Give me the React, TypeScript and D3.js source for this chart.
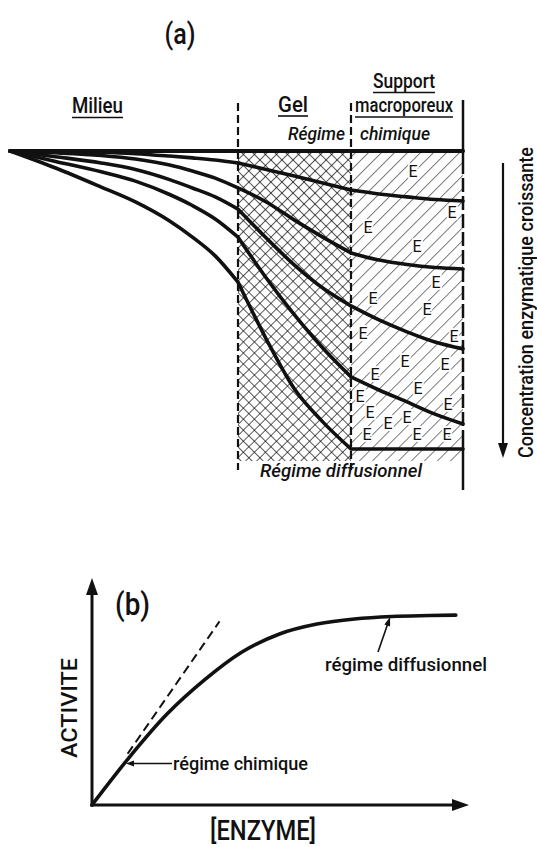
import React from "react";
import * as d3 from "d3";

// ---------- Panel (a) data : concentration profiles (% of bulk) ----------
// zone coordinate: 0..1 Milieu, 1..2 Gel, 2..3 Support macroporeux
const milieuX = [0, 0.2, 0.4, 0.55, 0.7, 0.8, 0.9, 1];
const gelX = [1, 1.25, 1.5, 1.75, 2];
const supportX = [2, 2.25, 2.5, 2.75, 3];

const profile1 = { milieu: [100, 100, 100, 100, 100, 100, 100, 100], gel: [100, 100, 100, 100, 100], support: [100, 100, 100, 100, 100] };
const profile2 = { milieu: [100, 99.9, 99.6, 99.1, 98.3, 97.7, 97.0, 96.0], gel: [96.0, 93.8, 91.6, 89.3, 86.9], support: [86.9, 85.6, 84.6, 83.7, 83.2] };
const profile3 = { milieu: [100, 99.4, 98.5, 97.3, 95.3, 93.3, 90.9, 87.6], gel: [87.6, 82.9, 76.8, 71.1, 65.8], support: [65.8, 63.4, 61.9, 60.9, 60.4] };
const profile4 = { milieu: [100, 98.1, 96.0, 93.8, 90.4, 87.6, 84.6, 80.5], gel: [80.5, 70.8, 61.7, 54.0, 48.0], support: [48.0, 43.3, 39.3, 35.9, 33.6] };
const profile5 = { milieu: [100, 96.5, 93.0, 89.9, 85.4, 81.7, 77.2, 71.1], gel: [71.1, 57.4, 45.0, 33.9, 24.2], support: [24.2, 19.8, 15.8, 11.7, 8.4] };
const profile6 = { milieu: [100, 94.3, 87.9, 82.9, 76.5, 71.1, 64.8, 56.0], gel: [56.0, 36.9, 20.1, 9.1, 0], support: [0, 0, 0, 0, 0] };
const profiles = [profile1, profile2, profile3, profile4, profile5, profile6];

// enzyme markers in the support (zone coordinate, % level)
const enzymeX = [2.554, 2.902, 2.152, 2.589, 2.759, 2.196, 2.679, 2.107, 2.92, 2.482, 2.214, 2.839, 2.598, 2.08, 2.866, 2.17, 2.5, 2.33, 2.143, 2.589, 2.857];
const enzymeY = [93.3, 79.5, 74.5, 68.1, 56.0, 50.7, 47.0, 38.9, 37.9, 29.5, 25.2, 28.5, 20.5, 17.8, 15.1, 12.4, 10.7, 8.7, 5.0, 5.0, 5.0];

// ---------- Panel (b) data ----------
const enzyme = [0, 10, 20, 30, 40, 50, 60, 70, 80, 90, 97];
const activity = [0, 21.3, 40.4, 55.6, 68, 76, 80.4, 82.7, 83.8, 84.2, 84.4];
const tangentX = [9.5, 34];
const tangentY = [22.8, 81.6];

const FONT = "Roboto, 'DejaVu Sans', sans-serif";

export default function App() {
  const W = 537, H = 847;
  const xA = d3.scaleLinear().domain([0, 1, 2, 3]).range([10, 238, 351, 463]);
  const yA = d3.scaleLinear().domain([0, 100]).range([449, 151]);
  const lineA = d3.line<[number, number]>().x(d => xA(d[0])).y(d => yA(d[1])).curve(d3.curveMonotoneX);
  const seg = (xs: number[], ys: number[]) => lineA(xs.map((x, i) => [x, ys[i]] as [number, number])) || "";
  const profilePaths = profiles.map(p => seg(milieuX, p.milieu) + seg(gelX, p.gel) + seg(supportX, p.support));

  const xB = d3.scaleLinear().domain([0, 100]).range([92, 467]);
  const yB = d3.scaleLinear().domain([0, 100]).range([805, 580]);
  const lineB = d3.line<[number, number]>().x(d => xB(d[0])).y(d => yB(d[1])).curve(d3.curveMonotoneX);
  const activityPath = lineB(enzyme.map((e, i) => [e, activity[i]] as [number, number])) || "";
  const tangentPath = d3.line<[number, number]>().x(d => xB(d[0])).y(d => yB(d[1]))(tangentX.map((t, i) => [t, tangentY[i]] as [number, number])) || "";

  const gx0 = xA(1), gx1 = xA(2), sx1 = xA(3);
  const top = yA(100), hatchBottom = 461;

  const arrowHead = (tx: number, ty: number, dir: "up" | "down" | "left" | "right", len: number, half: number) => {
    let pts: number[][] = [];
    if (dir === "up") pts = [[tx, ty], [tx - half, ty + len], [tx + half, ty + len]];
    if (dir === "down") pts = [[tx, ty], [tx - half, ty - len], [tx + half, ty - len]];
    if (dir === "right") pts = [[tx, ty], [tx - len, ty - half], [tx - len, ty + half]];
    if (dir === "left") pts = [[tx, ty], [tx + len, ty - half], [tx + len, ty + half]];
    return "M" + pts.map(p => p.join(",")).join("L") + "Z";
  };

  const dTipX = xB(79.5), dTipY = yB(83.6);
  const dAng = Math.atan2(dTipY - 652, dTipX - 378);

  const txt = { fontWeight: 500 as const, fill: "#111" };

  return (
    <svg width={W} height={H} style={{ position: "absolute", left: 0, top: 0, background: "#fff" }} fontFamily={FONT}>
      <defs>
        <pattern id="hatchA" patternUnits="userSpaceOnUse" width="7.8" height="20" patternTransform="rotate(45)">
          <line x1="0" y1="0" x2="0" y2="20" stroke="#000" strokeWidth="1.3" />
        </pattern>
        <pattern id="hatchB" patternUnits="userSpaceOnUse" width="7.8" height="20" patternTransform="rotate(-45)">
          <line x1="0" y1="0" x2="0" y2="20" stroke="#000" strokeWidth="1.3" />
        </pattern>
        <pattern id="hatchS" patternUnits="userSpaceOnUse" width="9.2" height="20" patternTransform="rotate(45)">
          <line x1="0" y1="0" x2="0" y2="20" stroke="#111" strokeWidth="1.1" />
        </pattern>
      </defs>
      <rect x={0} y={0} width={W} height={H} fill="#fff" />

      {/* ---------- Panel (a) ---------- */}
      <text x={180} y={44} fontSize={30} textAnchor="middle" textLength={31} lengthAdjust="spacingAndGlyphs" {...txt}>(a)</text>

      <text x={72} y={113} fontSize={22} textLength={51} lengthAdjust="spacingAndGlyphs" {...txt}>Milieu</text>
      <line x1={72} x2={123} y1={117.5} y2={117.5} stroke="#111" strokeWidth={1.6} />
      <text x={278} y={112} fontSize={22} textLength={30} lengthAdjust="spacingAndGlyphs" {...txt}>Gel</text>
      <line x1={278} x2={308} y1={116} y2={116} stroke="#111" strokeWidth={1.6} />
      <text x={373} y={88} fontSize={20} textLength={62} lengthAdjust="spacingAndGlyphs" {...txt}>Support</text>
      <line x1={373} x2={435} y1={92.5} y2={92.5} stroke="#111" strokeWidth={1.6} />
      <text x={355} y={112} fontSize={20} textLength={98} lengthAdjust="spacingAndGlyphs" {...txt}>macroporeux</text>
      <line x1={355} x2={453} y1={117} y2={117} stroke="#111" strokeWidth={1.6} />
      <text x={288} y={140} fontSize={18} fontStyle="italic" textLength={57} lengthAdjust="spacingAndGlyphs" {...txt}>Régime</text>
      <text x={360} y={140} fontSize={18} fontStyle="italic" textLength={70} lengthAdjust="spacingAndGlyphs" {...txt}>chimique</text>

      {/* hatching */}
      <rect x={gx0} y={top} width={gx1 - gx0} height={hatchBottom - top} fill="url(#hatchA)" />
      <rect x={gx0} y={top} width={gx1 - gx0} height={hatchBottom - top} fill="url(#hatchB)" />
      <rect x={gx1} y={top} width={sx1 - gx1} height={hatchBottom - top} fill="url(#hatchS)" />

      {/* enzyme markers */}
      {enzymeX.map((ex, i) => (
        <text key={i} x={xA(ex)} y={yA(enzymeY[i]) + 6} fontSize={16} textAnchor="middle"
          stroke="#fff" strokeWidth={3.5} paintOrder="stroke" fill="#111" fontWeight={400}>E</text>
      ))}

      {/* boundaries */}
      <line x1={gx0} x2={gx0} y1={103} y2={470} stroke="#111" strokeWidth={2.2} strokeDasharray="8 4" />
      <line x1={gx1} x2={gx1} y1={103} y2={470} stroke="#111" strokeWidth={2.2} strokeDasharray="8 4" />
      <line x1={sx1} x2={sx1} y1={100} y2={160} stroke="#111" strokeWidth={2.5} />
      <line x1={sx1} x2={sx1} y1={160} y2={443} stroke="#111" strokeWidth={2.5} strokeDasharray="14 4" />
      <line x1={sx1} x2={sx1} y1={443} y2={490} stroke="#111" strokeWidth={2.5} />

      {/* profiles */}
      {profilePaths.map((d, i) => (
        <path key={i} d={d} fill="none" stroke="#111" strokeWidth={i === 0 ? 4 : 3.6} strokeLinejoin="round" strokeLinecap="round" />
      ))}

      <text x={260} y={477} fontSize={18} fontStyle="italic" textLength={162} lengthAdjust="spacingAndGlyphs" {...txt}>Régime diffusionnel</text>

      {/* right arrow */}
      <line x1={503} x2={503} y1={163} y2={445} stroke="#111" strokeWidth={2.2} />
      <path d={arrowHead(503, 458, "down", 15, 5)} fill="#111" />
      <text transform="translate(533,302.5) rotate(-90)" fontSize={20} textAnchor="middle" textLength={311} lengthAdjust="spacingAndGlyphs" {...txt}>Concentration enzymatique croissante</text>

      {/* ---------- Panel (b) ---------- */}
      <line x1={xB(0)} x2={xB(0)} y1={yB(0) + 1.5} y2={592} stroke="#111" strokeWidth={3} />
      <path d={arrowHead(xB(0), 578, "up", 17, 6)} fill="#111" />
      <line x1={xB(0) - 1.5} x2={455} y1={yB(0)} y2={yB(0)} stroke="#111" strokeWidth={3} />
      <path d={arrowHead(469, yB(0), "right", 17, 6)} fill="#111" />

      <text x={115} y={615} fontSize={31} textLength={35} lengthAdjust="spacingAndGlyphs" {...txt}>(b)</text>
      <text transform="translate(77,708) rotate(-90)" fontSize={22} textAnchor="middle" textLength={100} lengthAdjust="spacingAndGlyphs" {...txt}>ACTIVITE</text>
      <text x={210} y={840} fontSize={27} textLength={106} lengthAdjust="spacingAndGlyphs" {...txt}>[ENZYME]</text>

      <path d={tangentPath} fill="none" stroke="#111" strokeWidth={2} strokeDasharray="9 5" />
      <path d={activityPath} fill="none" stroke="#111" strokeWidth={3.6} strokeLinecap="round" />

      {/* leaders */}
      <line x1={133} x2={172} y1={763.5} y2={763.5} stroke="#111" strokeWidth={1.6} />
      <path d={arrowHead(126, 763.5, "left", 8, 3)} fill="#111" />
      <text x={173} y={770} fontSize={19} textLength={135} lengthAdjust="spacingAndGlyphs" {...txt}>régime chimique</text>

      <line x1={378} y1={652} x2={dTipX - 8 * Math.cos(dAng)} y2={dTipY - 8 * Math.sin(dAng)} stroke="#111" strokeWidth={1.6} />
      <path d={`M${dTipX},${dTipY}L${dTipX - 9 * Math.cos(dAng) + 3 * Math.sin(dAng)},${dTipY - 9 * Math.sin(dAng) - 3 * Math.cos(dAng)}L${dTipX - 9 * Math.cos(dAng) - 3 * Math.sin(dAng)},${dTipY - 9 * Math.sin(dAng) + 3 * Math.cos(dAng)}Z`} fill="#111" />
      <text x={325} y={671} fontSize={19} textLength={162} lengthAdjust="spacingAndGlyphs" {...txt}>régime diffusionnel</text>
    </svg>
  );
}
